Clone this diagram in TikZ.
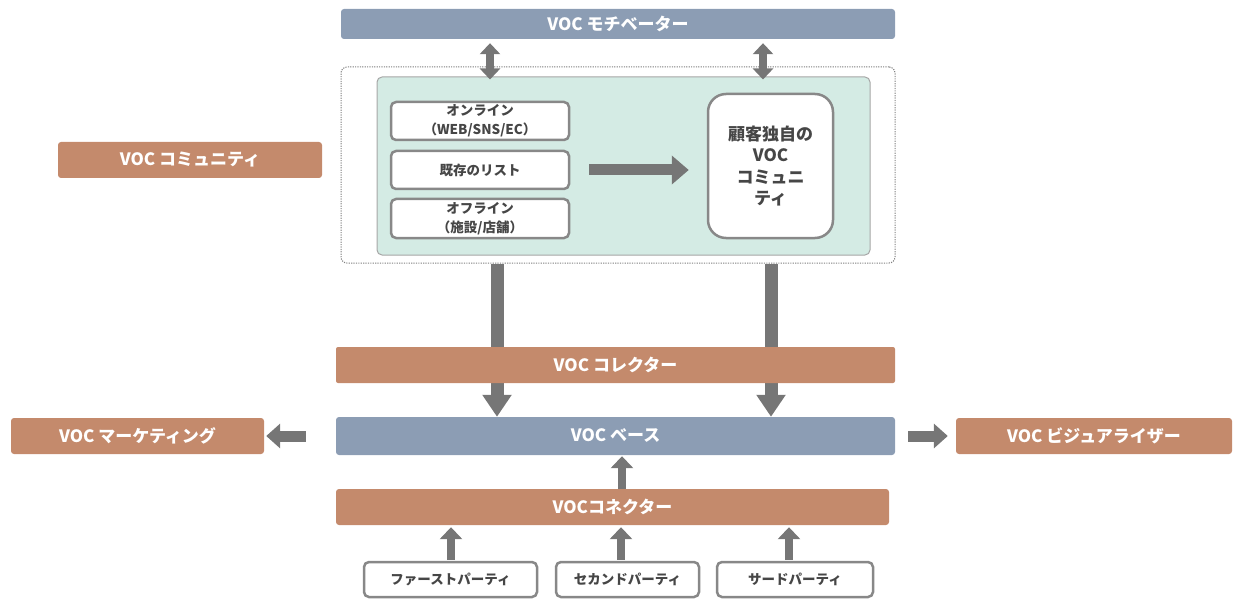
\documentclass[tikz,border=0pt]{standalone}
\usepackage{fontspec}
\setmainfont{Noto Sans CJK JP}
\usetikzlibrary{arrows.meta,backgrounds}
\definecolor{bluegray}{RGB}{140,157,180}
\definecolor{brown}{RGB}{196,138,108}
\definecolor{mint}{RGB}{212,235,228}
\definecolor{arrowgray}{RGB}{118,118,118}
\definecolor{boxgray}{RGB}{136,136,136}
\definecolor{txt}{RGB}{70,70,70}
\tikzset{
  bar/.style={rectangle, rounded corners=3pt, inner sep=0pt, text=white,
    font=\fontsize{17}{19}\selectfont\bfseries},
  bluebar/.style={bar, fill=bluegray},
  brownbar/.style={bar, fill=brown},
  srcbox/.style={rectangle, rounded corners=5pt, draw=boxgray, line width=2.5pt, fill=white,
    inner sep=0pt, text=txt, align=center, font=\fontsize{13.5}{19}\selectfont\bfseries},
  bigarrow/.style={draw=arrowgray, line width=13pt, -{Triangle[length=22pt,width=28pt]}, color=arrowgray},
  midarrow/.style={draw=arrowgray, line width=11pt, -{Triangle[length=17pt,width=28pt]}, color=arrowgray},
  sidearrow/.style={draw=arrowgray, line width=11pt, -{Triangle[length=14pt,width=24pt]}, color=arrowgray},
  uparrow/.style={draw=arrowgray, line width=8pt, -{Triangle[length=12pt,width=22pt]}, color=arrowgray},
  dblarrow/.style={draw=arrowgray, line width=8pt, {Triangle[length=11pt,width=20pt]}-{Triangle[length=11pt,width=20pt]}, color=arrowgray},
}
\begin{document}
\begin{tikzpicture}[x=1pt,y=-1pt]
\useasboundingbox (0,0) rectangle (1235,599);
% top
\node[bluebar, minimum width=554pt, minimum height=30pt] (motiv) at (618,24) {VOC モチベーター};
\node[rectangle, rounded corners=6pt, draw=gray, dash pattern=on 1.2pt off 1.2pt, line width=1pt, minimum width=554pt, minimum height=196pt, inner sep=0pt] (outer) at (618,165) {};
\node[rectangle, rounded corners=5pt, draw=gray!70, fill=mint, line width=1pt, minimum width=493pt, minimum height=178pt, inner sep=0pt] (green) at (623.5,166) {};
\node[srcbox, minimum width=178pt, minimum height=38pt] (online) at (480,121) {オンライン\\（WEB/SNS/EC）};
\node[srcbox, minimum width=178pt, minimum height=38pt] (list) at (480,170) {既存のリスト};
\node[srcbox, minimum width=178pt, minimum height=39pt] (offline) at (480,218.5) {オフライン\\（施設/店舗）};
\node[srcbox, rounded corners=18pt, minimum width=125pt, minimum height=144pt,
  font=\fontsize{17}{21.5}\selectfont\bfseries] (comm) at (770.5,166) {顧客独自の\\VOC\\コミュニ\\ティ};
\node[brownbar, minimum width=264pt, minimum height=36pt] (community) at (190,160) {VOC コミュニティ};
% middle
\node[brownbar, rounded corners=2pt, minimum width=559pt, minimum height=36pt] (collector) at (615.5,365) {VOC コレクター};
\node[bluebar, minimum width=559pt, minimum height=38pt] (base) at (615.5,436) {VOC ベース};
\node[brownbar, minimum width=253pt, minimum height=36pt] (marketing) at (137.5,436) {VOC マーケティング};
\node[brownbar, minimum width=276pt, minimum height=36pt] (visual) at (1094,436) {VOC ビジュアライザー};
\node[brownbar, minimum width=553pt, minimum height=36pt] (connector) at (612.5,507) {VOCコネクター};
% bottom
\node[srcbox, minimum width=173pt, minimum height=35pt] (first) at (450.5,579.5) {ファーストパーティ};
\node[srcbox, minimum width=143pt, minimum height=35pt] (second) at (627.5,579.5) {セカンドパーティ};
\node[srcbox, minimum width=156pt, minimum height=35pt] (third) at (795,579.5) {サードパーティ};
% column coordinates
\coordinate (cA) at (497,0);
\coordinate (cB) at (771,0);
\coordinate (dA) at (490,0);
\coordinate (dB) at (763,0);
\coordinate (u0) at (622,0);
\coordinate (u1) at (451,0);
\coordinate (u2) at (621,0);
\coordinate (u3) at (789,0);
\begin{scope}[on background layer]
\draw[bigarrow] (outer.south -| cA) -- (base.north -| cA);
\draw[bigarrow] (outer.south -| cB) -- (base.north -| cB);
\end{scope}
\draw[dblarrow, shorten <=4pt, shorten >=-3pt] (motiv.south -| dA) -- (green.north -| dA);
\draw[dblarrow, shorten <=4pt, shorten >=-3pt] (motiv.south -| dB) -- (green.north -| dB);
\draw[midarrow, shorten <=19pt, shorten >=18pt] (list.east) -- (comm.west |- list.east);
\draw[sidearrow, shorten <=30pt, shorten >=2pt] (base.west -| collector.west) -- (marketing.east);
\draw[sidearrow, shorten <=13pt, shorten >=8pt] (base.east) -- (visual.west);
\draw[uparrow, shorten >=1pt] (connector.north -| u0) -- (base.south -| u0);
\draw[uparrow, shorten <=1pt, shorten >=2pt] (first.north -| u1) -- (connector.south -| u1);
\draw[uparrow, shorten <=1pt, shorten >=2pt] (second.north -| u2) -- (connector.south -| u2);
\draw[uparrow, shorten <=1pt, shorten >=2pt] (third.north -| u3) -- (connector.south -| u3);
\end{tikzpicture}
\end{document}
